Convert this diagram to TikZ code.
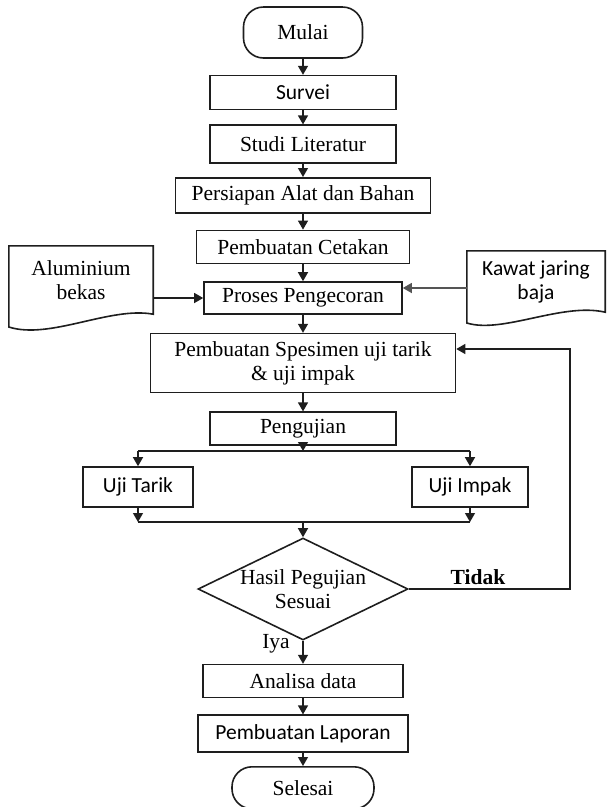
\documentclass[tikz,border=0pt]{standalone}
\usepackage{fontspec}
\setmainfont{Liberation Serif}
\newfontfamily\carlito{Carlito}
\usepackage{tikz}
\usetikzlibrary{positioning,arrows.meta,shapes.geometric,calc}
\newcommand{\bodysize}{\fontsize{21.5}{24}\selectfont}
\definecolor{ln}{HTML}{1E1E1E}
\definecolor{lnsoft}{HTML}{555555}
\tikzset{
  proc/.style={rectangle, draw=ln, line width=1.6pt, inner sep=0pt, align=center, font=\bodysize},
  sproc/.style={proc, font=\carlito\bodysize},
  term/.style={proc, rounded corners=20pt},
  dec/.style={diamond, aspect=2, draw=ln, line width=1.6pt, inner sep=-3pt, align=center, font=\bodysize},
  doc/.style={rectangle, inner sep=0pt, align=center, font=\bodysize},
  lbl/.style={inner sep=0pt, font=\bodysize},
  flow/.style={-{Triangle[length=9pt,width=10pt]}, line width=1.3pt, draw=ln},
  link/.style={line width=1.3pt, draw=ln}
}

\begin{document}
\begin{tikzpicture}[x=1pt, y=1pt, node distance=16pt]
\useasboundingbox (0,0) rectangle (606,-807);
\node[term, minimum width=119pt, minimum height=51pt] (mulai) at (303,-32.5) {Mulai};
\node[sproc, minimum width=186pt, minimum height=34pt, below=16pt of mulai] (survei) {Survei};
\node[proc, minimum width=186pt, minimum height=38pt, below=14pt of survei] (studi) {Studi Literatur};
\node[proc, minimum width=255pt, minimum height=35pt, below=13pt of studi] (persiapan) {Persiapan Alat dan Bahan};
\node[proc, minimum width=213pt, minimum height=33pt, below=16pt of persiapan] (cetakan) {Pembuatan Cetakan};
\node[proc, minimum width=198pt, minimum height=32pt, below=17pt of cetakan] (proses) {Proses Pengecoran};
\node[proc, minimum width=305pt, minimum height=59pt, below=18pt of proses] (spesimen) {Pembuatan Spesimen uji tarik\\\& uji impak};
\node[proc, minimum width=186pt, minimum height=33pt, below=18pt of spesimen] (pengujian) {Pengujian};
\node[sproc, minimum width=110pt, minimum height=40pt] (tarik) at (138,-487) {Uji Tarik};
\node[sproc, minimum width=116pt, minimum height=40pt] (impak) at (470,-487) {Uji Impak};
\node[dec, minimum width=210pt, minimum height=102pt] (hasil) at (303,-589) {Hasil Pegujian\\Sesuai};
\node[proc, minimum width=200pt, minimum height=33pt, below=23pt of hasil] (analisa) {Analisa data};
\node[sproc, minimum width=210pt, minimum height=37pt, below=16pt of analisa] (laporan) {Pembuatan Laporan};
\node[term, minimum width=142pt, minimum height=42pt, below=13pt of laporan] (selesai) {Selesai};
% bahan masuk
\node[doc, minimum width=144pt, minimum height=68pt] (alum) at (81,-280) {Aluminium\\bekas};
\node[doc, minimum width=138pt, minimum height=61pt, font=\carlito\bodysize] (kawat) at (536,-281.5) {Kawat jaring\\baja};
\draw[link, line width=1.6pt] (alum.south east) .. controls +(-43,8) and +(41,-13) .. (alum.south west |- 0,-327) -- (alum.north west) -- (alum.north east) -- cycle;
\draw[link, line width=1.6pt] (kawat.south east) .. controls +(-43,10) and +(36,-11) .. (kawat.south west |- 0,-323) -- (kawat.north west) -- (kawat.north east) -- cycle;
\coordinate (split) at (303,-451);
\coordinate (merge) at (303,-522);
\coordinate (back) at (570,-349);
\draw[flow] (mulai)--(survei);\draw[flow] (survei)--(studi);\draw[flow] (studi)--(persiapan);\draw[flow] (persiapan)--(cetakan);\draw[flow] (cetakan)--(proses);
\draw[flow] (alum.east |- proses)--(proses.west);\draw[flow, draw=lnsoft] (kawat.west |- 0,-288)--(proses.east |- 0,-288);
\draw[flow] (proses)--(spesimen);\draw[flow] (spesimen)--(pengujian);\draw[flow] (pengujian)--(split);
\draw[link] (split -| tarik)--(split -| impak);\draw[flow] (split -| tarik)--(tarik);\draw[flow] (split -| impak)--(impak);
\draw[flow] (tarik)--(tarik |- merge);\draw[flow] (impak)--(impak |- merge);\draw[link] (tarik |- merge)--(impak |- merge);
\draw[flow] (merge)--(hasil);
\draw[flow] (hasil.east) -| (back) -- (back -| spesimen.east);
\draw[flow] (hasil)--(analisa);\draw[flow] (analisa)--(laporan);\draw[flow] (laporan)--(selesai);
\node[lbl, font=\bodysize\bfseries] (tidak) at (478,-577) {Tidak};
\node[lbl] (iya) at (276,-644) {Iya};
\end{tikzpicture}
\end{document}
